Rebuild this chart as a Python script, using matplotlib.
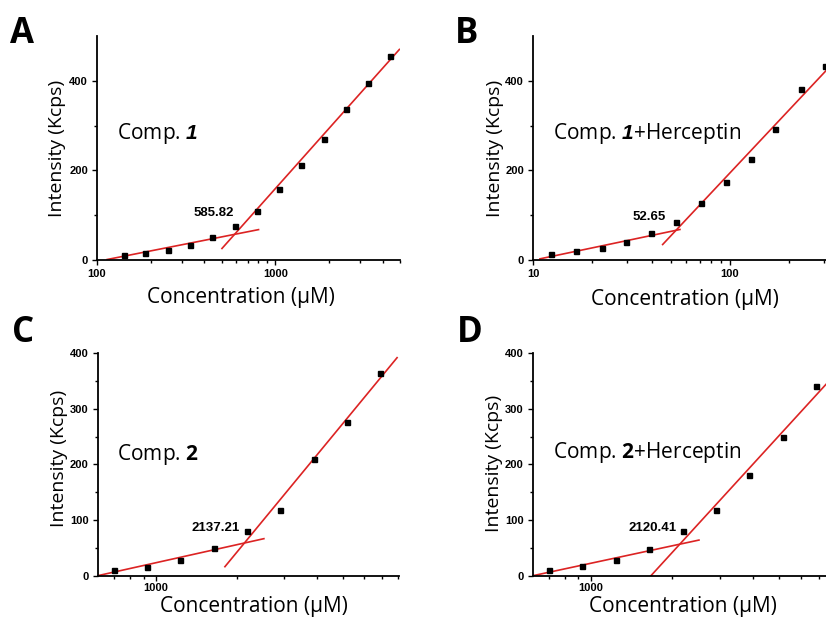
import numpy as np
import matplotlib
matplotlib.use("Agg")
import matplotlib.pyplot as plt
from matplotlib.ticker import LogLocator, FixedLocator, FuncFormatter, NullFormatter

# ---------------- data ----------------
conc_A = [141, 187, 250, 333, 443, 592, 788, 1049, 1395, 1865, 2482, 3317, 4414]
int_A = [9.7, 13.5, 21, 33, 51, 75.5, 109, 158.5, 213, 270.7, 337, 396, 456]
low_A_x, low_A_y = [114, 805], [0, 67]
high_A_x, high_A_y = [502, 4961], [24.7, 471]

conc_B = [12.4, 16.6, 22.3, 29.7, 39.8, 53.1, 71.2, 95.1, 127.4, 170, 227.9, 301.8]
int_B = [12, 18.7, 26.2, 38.9, 59, 85.2, 126, 172.7, 225, 292, 382, 434]
low_B_x, low_B_y = [10.85, 55.7], [1.5, 67.3]
high_B_x, high_B_y = [45.5, 309], [33.6, 424.7]

conc_C = [695, 925, 1232, 1641, 2186, 2910, 3876, 5160, 6871]
int_C = [10.8, 16.2, 28.1, 50.3, 80.8, 118.6, 209, 276, 363.5]
low_C_x, low_C_y = [606, 2529], [0, 66.5]
high_C_x, high_C_y = [1809, 7947], [16.2, 391.6]

conc_D = [701, 931, 1238, 1644, 2191, 2911, 3867, 5141, 6847]
int_D = [10.8, 16.8, 28.7, 47.9, 80.2, 117.4, 181.4, 249, 341.3]
low_D_x, low_D_y = [611, 2518], [0, 64]
high_D_x, high_D_y = [1672, 7437], [0, 343.7]

cmc_labels = ["585.82", "52.65", "2137.21", "2120.41"]
panel_letters = ["A", "B", "C", "D"]
titles = [r"Comp. $\mathsf{1}$", r"Comp. $\mathsf{1}$+Herceptin",
          r"Comp. $\mathbf{2}$", r"Comp. $\mathbf{2}$+Herceptin"]

# ---------------- style ----------------
plt.rcParams["font.family"] = ["Liberation Sans", "DejaVu Sans"]
plt.rcParams["font.weight"] = "bold"
plt.rcParams["xtick.labelsize"] = 8
plt.rcParams["ytick.labelsize"] = 8
plt.rcParams["mathtext.fontset"] = "custom"
plt.rcParams["mathtext.rm"] = "Open Sans"
plt.rcParams["mathtext.sf"] = "Liberation Sans:style=italic:weight=bold"
plt.rcParams["mathtext.bf"] = "Open Sans:weight=bold"

W, H = 826, 624
fig = plt.figure(figsize=(W / 100, H / 100), dpi=100)

RED = "#dc2323"

def px_axes(left, right, bottom, top):
    return fig.add_axes([left / W, 1 - bottom / H, (right - left) / W, (bottom - top) / H])

panels = [
    dict(box=(97, 400, 259.5, 36.5), xlim=(100, 5000), ylim=(0, 500),
         ymaj=[0, 200, 400], ymin=[100, 300],
         conc=conc_A, inten=int_A, low=(low_A_x, low_A_y), high=(high_A_x, high_A_y),
         title_pos=(0.067, 0.539), num_pos=(0.385, 0.21),
         ylab=(-0.133, 0.5), xlab=(0.474, -0.17), letter=(10, 43), xpad=3),
    dict(box=(533, 836, 259.5, 36.5), xlim=(10, 345), ylim=(0, 500),
         ymaj=[0, 200, 400], ymin=[100, 300],
         conc=conc_B, inten=int_B, low=(low_B_x, low_B_y), high=(high_B_x, high_B_y),
         title_pos=(0.066, 0.539), num_pos=(0.384, 0.192),
         ylab=(-0.126, 0.5), xlab=(0.50, -0.18), letter=(455, 43), xpad=3),
    dict(box=(97.5, 399.3, 575.7, 353), xlim=(605, 8100), ylim=(0, 400),
         ymaj=[0, 100, 200, 300, 400], ymin=[50, 150, 250, 350],
         conc=conc_C, inten=int_C, low=(low_C_x, low_C_y), high=(high_C_x, high_C_y),
         title_pos=(0.066, 0.52), num_pos=(0.391, 0.214),
         ylab=(-0.126, 0.528), xlab=(0.518, -0.137), letter=(12, 341.7), xpad=1.5),
    dict(box=(532.7, 836, 575.7, 353), xlim=(610, 8100), ylim=(0, 400),
         ymaj=[0, 100, 200, 300, 400], ymin=[50, 150, 250, 350],
         conc=conc_D, inten=int_D, low=(low_D_x, low_D_y), high=(high_D_x, high_D_y),
         title_pos=(0.067, 0.527), num_pos=(0.395, 0.214),
         ylab=(-0.126, 0.506), xlab=(0.495, -0.137), letter=(457, 341.7), xpad=1.5),
]

fmt = FuncFormatter(lambda v, p: f"{v:g}")

for i, p in enumerate(panels):
    ax = px_axes(*p["box"])
    ax.set_xscale("log")
    ax.set_xlim(*p["xlim"])
    ax.set_ylim(*p["ylim"])
    for s in ("top", "right"):
        ax.spines[s].set_visible(False)
    for s in ("left", "bottom"):
        ax.spines[s].set_linewidth(1.3)
    ax.xaxis.set_major_locator(LogLocator(base=10, numticks=10))
    ax.xaxis.set_minor_locator(LogLocator(base=10, subs=np.arange(2, 10), numticks=20))
    ax.xaxis.set_major_formatter(fmt)
    ax.xaxis.set_minor_formatter(NullFormatter())
    ax.yaxis.set_major_locator(FixedLocator(p["ymaj"]))
    ax.yaxis.set_minor_locator(FixedLocator(p["ymin"]))
    ax.tick_params(which="both", direction="out", width=1.0, color="black")
    ax.tick_params(which="major", length=3.5, pad=3)
    ax.tick_params(axis="x", which="major", pad=p["xpad"])
    ax.tick_params(which="minor", length=2.5)

    ax.plot(p["low"][0], p["low"][1], color=RED, lw=1.2, zorder=2)
    ax.plot(p["high"][0], p["high"][1], color=RED, lw=1.2, zorder=2)
    ax.plot(p["conc"], p["inten"], linestyle="none", marker="s", ms=3.6,
            color="black", zorder=3, clip_on=False)

    ax.set_ylabel("Intensity (Kcps)", fontsize=14, family="Open Sans",
                  fontweight="normal", va="center")
    ax.yaxis.set_label_coords(*p["ylab"])
    ax.set_xlabel("Concentration (μM)", fontsize=15, family="Open Sans",
                  fontweight="normal", va="center")
    ax.xaxis.set_label_coords(*p["xlab"])

    ax.text(*p["title_pos"], titles[i], transform=ax.transAxes, fontsize=15,
            family="Open Sans", fontweight="normal", ha="left", va="baseline")
    ax.text(*p["num_pos"], cmc_labels[i], transform=ax.transAxes, fontsize=9.5,
            family="Liberation Sans", fontweight="bold", ha="center", va="center")

    lx, ly = p["letter"]
    fig.text(lx / W, 1 - ly / H, panel_letters[i], fontsize=25, fontweight="bold",
             family="Open Sans", ha="left", va="baseline")

fig.savefig("out.png", dpi=100)
